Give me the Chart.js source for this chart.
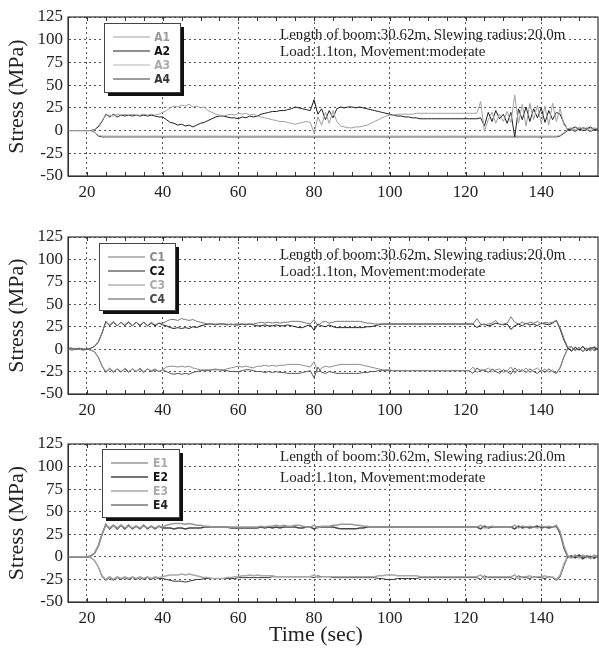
<!DOCTYPE html>
<html>
<head>
<meta charset="utf-8">
<script src="https://cdn.jsdelivr.net/npm/chart.js@4.4.1/dist/chart.umd.min.js"></script>
<style>
  body { margin: 0; background: #fff; }
  .panel { position: absolute; left: 0; width: 599px; }
</style>
</head>
<body>
<div class="panel" style="top:0px"><canvas id="chartA" width="599" height="200"></canvas></div>
<div class="panel" style="top:210px"><canvas id="chartC" width="599" height="208"></canvas></div>
<div class="panel" style="top:418px"><canvas id="chartE" width="599" height="230"></canvas></div>
<script>
// time axis (sec)
const times = [
  15,16,17,18,19,20,21,22,23,24,
  25,26,27,28,29,30,31,32,33,34,
  35,36,37,38,39,40,41,42,43,44,
  45,46,47,48,49,50,51,52,53,54,
  55,56,57,58,59,60,61,62,63,64,
  65,66,67,68,69,70,71,72,73,74,
  75,76,77,78,79,80,81,82,83,84,
  85,86,87,88,89,90,91,92,93,94,
  95,96,97,98,99,100,101,102,103,104,
  105,106,107,108,109,110,111,112,113,114,
  115,116,117,118,119,120,121,122,123,124,
  125,126,127,128,129,130,131,132,133,134,
  135,136,137,138,139,140,141,142,143,144,
  145,146,147,148,149,150,151,152,153,154,
  155
];
const xTicks = [20, 40, 60, 80, 100, 120, 140];
const yTicks = [-50, -25, 0, 25, 50, 75, 100, 125];
const noteLines = ["Length of boom:30.62m, Slewing radius:20.0m", "Load:1.1ton, Movement:moderate"];

// panel A (stress, MPa)
const labelsA = ["A1", "A2", "A3", "A4"];
const a1 = [
  0,0,0,0,0,0,0,1,5,11,
  17,17,16,18,17,18,17,18,17,17,
  18,17,18,17,18,20,22,25,27,26,
  28,27,29,26,27,25,26,22,20,18,
  17,16,17,18,17,19,18,19,17,18,
  16,15,14,13,12,11,10,10,9,8,
  7,8,9,10,9,-3,15,6,20,8,
  22,10,5,4,3,3,4,4,5,6,
  8,10,12,14,16,17,17,18,18,18,
  18,18,19,19,19,19,19,19,19,19,
  19,19,19,19,19,19,19,19,19,32,
  -1,12,20,8,18,10,21,9,39,8,
  29,5,30,12,28,8,27,6,30,10,
  24,6,2,3,1,4,2,3,2,3,
  2
];
const a2 = [
  0,0,0,0,0,0,0,1,4,10,
  18,15,18,15,17,16,17,16,17,16,
  17,16,17,16,15,15,12,9,8,6,
  7,5,6,4,6,8,9,11,13,15,
  16,16,15,14,14,13,15,14,16,15,
  16,18,19,20,21,21,22,22,23,24,
  26,25,24,23,22,34,18,24,12,22,
  14,24,26,25,26,26,25,26,25,24,
  23,22,21,20,19,18,17,16,16,15,
  15,14,14,13,13,13,13,13,13,13,
  13,13,13,13,13,13,13,13,13,14,
  5,20,10,22,13,18,8,20,-7,24,
  12,26,10,24,14,25,9,22,12,20,
  18,8,1,2,4,1,3,2,4,1,
  2
];
const a3 = [
  0,0,0,0,0,0,0,-2,-5,-6,
  -6,-6,-6,-6,-6,-6,-6,-6,-6,-6,
  -6,-6,-6,-6,-6,-6,-6,-6,-6,-6,
  -6,-6,-6,-6,-6,-6,-6,-6,-6,-6,
  -6,-6,-6,-6,-6,-6,-6,-6,-6,-6,
  -6,-6,-6,-6,-6,-6,-6,-6,-6,-6,
  -6,-6,-6,-6,-6,-6,-6,-6,-6,-6,
  -6,-6,-6,-6,-6,-6,-6,-6,-6,-6,
  -6,-6,-6,-6,-6,-6,-6,-6,-6,-6,
  -6,-6,-6,-6,-6,-6,-6,-6,-6,-6,
  -6,-6,-6,-6,-6,-6,-6,-6,-6,-6,
  -6,-6,-6,-6,-6,-6,-6,-6,-6,-6,
  -6,-6,-6,-6,-6,-6,-6,-6,-6,-6,
  -5,-2,1,2,0,3,1,2,0,2,
  1
];
const a4 = [
  0,0,0,0,0,0,0,-2,-6,-7,
  -7,-7,-7,-7,-7,-7,-7,-7,-7,-7,
  -7,-7,-7,-7,-7,-7,-7,-7,-7,-7,
  -7,-7,-7,-7,-7,-7,-7,-7,-7,-7,
  -7,-7,-7,-7,-7,-7,-7,-7,-7,-7,
  -7,-7,-7,-7,-7,-7,-7,-7,-7,-7,
  -7,-7,-7,-7,-7,-7,-7,-7,-7,-7,
  -7,-7,-7,-7,-7,-7,-7,-7,-7,-7,
  -7,-7,-7,-7,-7,-7,-7,-7,-7,-7,
  -7,-7,-7,-7,-7,-7,-7,-7,-7,-7,
  -7,-7,-7,-7,-7,-7,-7,-7,-7,-7,
  -7,-7,-7,-7,-7,-7,-7,-7,-7,-7,
  -7,-7,-7,-7,-7,-7,-7,-7,-7,-7,
  -6,-3,0,1,-1,2,0,1,-1,1,
  0
];

// panel C
const labelsC = ["C1", "C2", "C3", "C4"];
const c1 = [
  1,1,0,1,0,0,1,3,8,18,
  30,27,31,26,30,27,31,26,30,27,
  30,26,30,27,29,29,31,33,33,32,
  34,33,32,33,31,30,29,28,28,28,
  28,28,28,27,28,28,28,28,28,28,
  29,30,29,30,29,30,29,30,30,31,
  31,31,30,29,28,33,26,30,31,29,
  30,31,31,31,31,31,31,31,30,29,
  29,28,28,28,28,28,28,28,28,28,
  28,28,28,28,28,28,28,28,28,28,
  28,28,28,28,28,28,28,28,34,28,
  27,28,29,32,27,28,29,36,30,28,
  30,28,30,29,31,28,30,29,30,32,
  24,12,2,3,-2,2,-3,1,-1,3,
  0
];
const c2 = [
  1,1,0,1,0,0,1,3,8,18,
  31,26,30,26,30,26,30,26,30,26,
  30,26,29,26,29,27,26,24,23,24,
  23,24,23,25,24,26,27,28,28,27,
  28,28,27,28,27,27,28,27,28,27,
  26,26,27,26,26,27,26,26,27,26,
  25,24,24,26,27,21,28,26,25,27,
  25,24,24,24,24,24,24,24,24,25,
  25,26,27,28,28,28,28,28,28,28,
  28,28,28,28,28,28,28,28,28,28,
  28,28,28,28,28,28,28,28,24,27,
  28,26,27,29,28,27,28,22,26,28,
  26,29,27,28,26,29,28,27,29,32,
  22,10,1,-2,2,-1,3,-2,1,2,
  -1
];
const c3 = [
  0,-1,0,0,-1,0,-1,-3,-9,-19,
  -25,-21,-25,-22,-26,-21,-25,-22,-25,-21,
  -25,-22,-24,-22,-25,-23,-20,-19,-19,-20,
  -19,-20,-19,-21,-22,-23,-23,-23,-23,-22,
  -23,-23,-22,-21,-20,-19,-20,-19,-20,-21,
  -19,-19,-18,-19,-18,-19,-18,-18,-17,-17,
  -17,-17,-18,-19,-20,-14,-26,-21,-19,-20,
  -19,-18,-17,-17,-17,-17,-17,-17,-18,-19,
  -20,-21,-22,-23,-23,-23,-24,-24,-24,-24,
  -24,-24,-24,-24,-24,-24,-24,-24,-24,-24,
  -24,-24,-24,-24,-24,-24,-24,-20,-26,-23,
  -24,-21,-25,-23,-22,-26,-24,-20,-27,-22,
  -25,-21,-26,-23,-21,-25,-22,-26,-23,-27,
  -20,-8,0,2,-1,2,-2,1,-2,1,
  0
];
const c4 = [
  0,-1,0,0,-1,0,-1,-3,-9,-19,
  -26,-22,-26,-22,-25,-22,-26,-22,-25,-22,
  -26,-22,-25,-23,-25,-23,-25,-27,-28,-27,
  -28,-27,-28,-26,-25,-24,-24,-24,-23,-23,
  -23,-24,-24,-25,-25,-25,-24,-23,-23,-24,
  -25,-25,-26,-25,-26,-25,-26,-26,-27,-27,
  -27,-27,-26,-25,-24,-32,-20,-26,-27,-25,
  -26,-27,-27,-27,-27,-27,-27,-27,-26,-26,
  -25,-25,-24,-24,-24,-24,-24,-24,-24,-24,
  -24,-24,-24,-24,-24,-24,-24,-24,-24,-24,
  -24,-24,-24,-24,-24,-24,-24,-27,-21,-24,
  -23,-26,-22,-25,-27,-23,-25,-28,-21,-25,
  -23,-26,-22,-25,-27,-23,-26,-22,-25,-27,
  -21,-9,1,-2,2,-1,3,-1,2,-2,
  1
];

// panel E
const labelsE = ["E1", "E2", "E3", "E4"];
const e1 = [
  0,0,0,0,0,0,1,4,12,25,
  35,32,35,32,35,32,34,32,34,32,
  34,32,34,32,34,33,35,36,37,37,
  37,36,37,36,35,35,34,34,33,33,
  33,33,33,33,33,33,33,33,33,33,
  33,34,33,34,34,35,34,35,34,34,
  35,35,34,33,33,35,32,34,34,34,
  35,35,36,36,36,36,35,35,34,34,
  33,33,33,33,33,33,33,33,33,33,
  33,33,33,33,33,33,33,33,33,33,
  33,33,33,33,33,33,33,33,33,35,
  32,33,34,33,33,33,33,33,35,32,
  34,33,34,33,32,34,33,34,33,35,
  28,12,1,-1,2,-1,2,0,-2,1,
  0
];
const e2 = [
  0,0,0,0,0,0,1,4,12,25,
  36,31,35,31,35,31,35,31,34,31,
  35,31,34,31,34,32,32,32,31,32,
  32,31,32,32,32,32,33,33,33,33,
  33,33,33,32,32,32,32,32,32,32,
  32,33,32,33,32,33,32,33,33,33,
  33,32,32,33,33,31,33,33,33,33,
  33,32,31,31,31,31,31,32,32,33,
  33,33,33,33,33,33,33,33,33,33,
  33,33,33,33,33,33,33,33,33,33,
  33,33,33,33,33,33,33,33,33,31,
  34,32,33,33,33,33,33,33,31,34,
  32,33,32,33,34,32,33,32,33,34,
  26,10,0,1,-1,2,-2,1,0,-1,
  1
];
const e3 = [
  0,0,0,0,0,0,-1,-4,-11,-21,
  -25,-22,-25,-22,-24,-22,-24,-22,-24,-22,
  -24,-22,-24,-22,-23,-22,-21,-20,-20,-20,
  -19,-20,-19,-20,-21,-22,-23,-23,-24,-24,
  -24,-24,-23,-23,-22,-22,-21,-21,-20,-21,
  -20,-21,-21,-21,-21,-22,-22,-22,-22,-22,
  -22,-22,-22,-22,-22,-20,-23,-22,-22,-22,
  -22,-22,-22,-22,-22,-22,-22,-22,-22,-22,
  -22,-22,-21,-21,-20,-20,-20,-21,-21,-21,
  -21,-21,-21,-22,-22,-22,-22,-22,-22,-22,
  -22,-22,-22,-22,-22,-22,-22,-22,-22,-20,
  -24,-22,-22,-22,-22,-22,-22,-22,-20,-24,
  -22,-22,-21,-23,-22,-22,-21,-23,-22,-25,
  -20,-8,1,-1,2,0,-2,1,-1,2,
  0
];
const e4 = [
  0,0,0,0,0,0,-1,-4,-11,-22,
  -26,-23,-26,-23,-25,-23,-25,-23,-25,-23,
  -25,-23,-25,-23,-24,-24,-25,-26,-27,-27,
  -27,-28,-27,-26,-25,-25,-24,-24,-24,-24,
  -24,-24,-24,-24,-24,-23,-23,-23,-23,-23,
  -23,-23,-23,-23,-22,-22,-22,-22,-22,-22,
  -22,-22,-22,-22,-22,-23,-21,-22,-22,-22,
  -23,-23,-23,-23,-23,-23,-23,-23,-23,-23,
  -23,-23,-24,-24,-25,-25,-25,-24,-24,-24,
  -24,-24,-24,-23,-23,-23,-23,-23,-23,-23,
  -23,-23,-23,-23,-23,-23,-23,-23,-23,-25,
  -21,-23,-23,-23,-23,-23,-23,-23,-25,-21,
  -23,-23,-24,-22,-23,-23,-24,-22,-23,-26,
  -22,-10,0,1,-1,2,0,-1,1,-2,
  1
];

const serif = '"Liberation Serif", "DejaVu Serif", serif';
const narrow = '"Liberation Sans Narrow", "DejaVu Sans Condensed", sans-serif';

// frame, minor ticks, legend box and notes
const panelDecor = {
  id: "panelDecor",
  afterDraw(chart, args, opts) {
    const ctx = chart.ctx;
    const area = chart.chartArea;
    const xs = chart.scales.x;
    ctx.save();
    ctx.strokeStyle = "#333";
    ctx.lineWidth = 1.2;
    ctx.strokeRect(area.left, area.top, area.right - area.left, area.bottom - area.top);
    ctx.lineWidth = 1;
    for (let t = 20; t < 155; t += 5) {
      const px = Math.round(xs.getPixelForValue(t)) + 0.5;
      ctx.beginPath();
      ctx.moveTo(px, area.bottom); ctx.lineTo(px, area.bottom - 4);
      ctx.moveTo(px, area.top); ctx.lineTo(px, area.top + 4);
      ctx.stroke();
    }

    // notes
    ctx.fillStyle = "#222";
    ctx.font = "15px " + serif;
    ctx.textAlign = "left";
    ctx.textBaseline = "middle";
    ctx.fillText(noteLines[0], 280, opts.noteY[0]);
    ctx.fillText(noteLines[1], 280, opts.noteY[1]);

    // legend box with shadow
    const b = opts.box;
    ctx.fillStyle = "#111";
    ctx.fillRect(b.x + 4, b.y + 4, b.w, b.h);
    ctx.fillStyle = "#fff";
    ctx.fillRect(b.x, b.y, b.w, b.h);
    ctx.strokeStyle = "#444";
    ctx.strokeRect(b.x + 0.5, b.y + 0.5, b.w, b.h);
    ctx.font = "bold 12px " + narrow;
    ctx.textAlign = "right";
    chart.data.datasets.forEach((ds, i) => {
      const yy = b.y + 14 + i * 14;
      ctx.strokeStyle = ds.borderColor;
      ctx.lineWidth = ds.borderWidth;
      ctx.beginPath();
      ctx.moveTo(b.x + 9, yy); ctx.lineTo(b.x + 46, yy);
      ctx.stroke();
      ctx.fillStyle = ds.textColor;
      ctx.fillText(ds.label, b.x + 66, yy + 1);
    });

    if (opts.xTitle) {
      ctx.fillStyle = "#222";
      ctx.font = "22px " + serif;
      ctx.textAlign = "center";
      ctx.fillText(opts.xTitle.text, opts.xTitle.x, opts.xTitle.y);
    }
    ctx.restore();
  }
};

function makeChart(id, labels, series, styles, cfg) {
  const datasets = series.map((vals, i) => ({
    label: labels[i],
    data: times.map((t, k) => ({ x: t, y: vals[k] })),
    borderColor: styles[i].color,
    textColor: styles[i].text,
    borderWidth: styles[i].width,
    pointRadius: 0,
    tension: 0,
    fill: false
  }));
  return new Chart(document.getElementById(id), {
    type: "line",
    data: { datasets },
    plugins: [panelDecor],
    options: {
      responsive: false,
      animation: false,
      layout: { padding: { top: cfg.padTop, right: 1, left: 0, bottom: 0 } },
      plugins: {
        legend: { display: false },
        tooltip: { enabled: false },
        panelDecor: cfg.decor
      },
      scales: {
        x: {
          type: "linear",
          min: 15,
          max: 155,
          afterBuildTicks: s => { s.ticks = xTicks.map(v => ({ value: v })); },
          afterFit: s => { s.height = cfg.xHeight; },
          grid: { color: "#555", lineWidth: 1, drawTicks: false },
          border: { display: true, color: "#333", dash: [2, 3] },
          ticks: { font: { family: serif, size: 17 }, color: "#222", padding: 6, maxRotation: 0, autoSkip: false }
        },
        y: {
          min: -50,
          max: 125,
          afterBuildTicks: s => { s.ticks = yTicks.map(v => ({ value: v })); },
          afterFit: s => { s.width = 68; },
          grid: { color: "#555", lineWidth: 1, drawTicks: false },
          border: { display: true, color: "#333", dash: [2, 3] },
          ticks: { font: { family: serif, size: 17 }, color: "#222", padding: 5, autoSkip: false },
          title: { display: true, text: "Stress (MPa)", font: { family: serif, size: 22 }, color: "#222", padding: { top: 4, bottom: 0 } }
        }
      }
    }
  });
}

makeChart("chartA", labelsA, [a1, a2, a3, a4], [
  { color: "#a0a0a0", text: "#9a9a9a", width: 1 },
  { color: "#1e1e1e", text: "#111", width: 1 },
  { color: "#b5b5b5", text: "#aaa", width: 1 },
  { color: "#3a3a3a", text: "#333", width: 1 }
], { padTop: 17, xHeight: 24, decor: { box: { x: 104, y: 23, w: 76, h: 69 }, noteY: [35, 52] } });

makeChart("chartC", labelsC, [c1, c2, c3, c4], [
  { color: "#777", text: "#888", width: 1 },
  { color: "#222", text: "#111", width: 1 },
  { color: "#8c8c8c", text: "#aaa", width: 1 },
  { color: "#555", text: "#444", width: 1 }
], { padTop: 27, xHeight: 24, decor: { box: { x: 99, y: 33, w: 76, h: 67 }, noteY: [45, 62] } });

makeChart("chartE", labelsE, [e1, e2, e3, e4], [
  { color: "#999", text: "#aaa", width: 1.5 },
  { color: "#444", text: "#111", width: 1.5 },
  { color: "#a8a8a8", text: "#aaa", width: 1.5 },
  { color: "#333", text: "#222", width: 1 }
], { padTop: 26, xHeight: 46, decor: { box: { x: 102, y: 31, w: 77, h: 68 }, noteY: [39, 60], xTitle: { text: "Time (sec)", x: 316, y: 217 } } });
</script>
</body>
</html>
